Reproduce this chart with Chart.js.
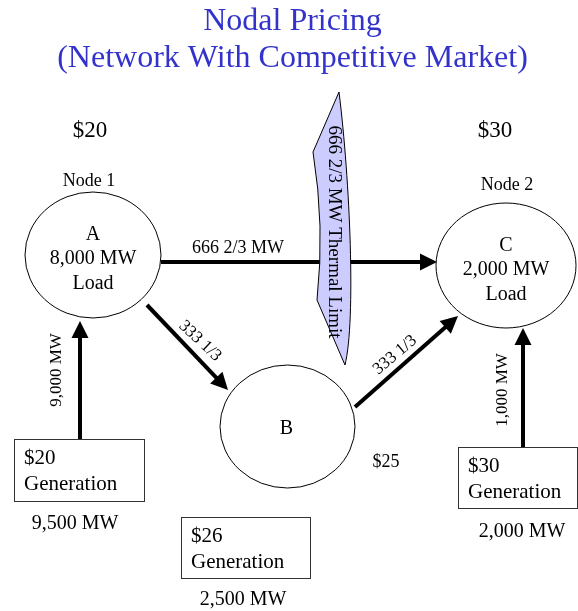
<!DOCTYPE html>
<html>
<head>
<meta charset="utf-8">
<script src="https://cdn.jsdelivr.net/npm/chart.js@4.4.1/dist/chart.umd.min.js"></script>
<style>
    html, body { margin: 0; padding: 0; background: #fff; }
    #wrap { position: relative; width: 578px; height: 611px; }
</style>
</head>
<body>
<div id="wrap"><canvas id="diagram"></canvas></div>
<script>
// Nodal pricing diagram - two priced nodes joined by a congested line

// --- values ---
const titleLines = ['Nodal Pricing', '(Network With Competitive Market)'];
const nodeNames = ['A', 'B', 'C'];
const nodeTags = ['Node 1', '', 'Node 2'];
const nodeLoads = ['8,000 MW', '', '2,000 MW'];
const nodePrices = ['$20', '$25', '$30'];
const genPrices = ['$20', '$26', '$30'];
const genOutputs = ['9,500 MW', '2,500 MW', '2,000 MW'];
const flowLabels = ['666 2/3 MW', '333 1/3', '333 1/3', '9,000 MW', '1,000 MW'];
const limitLabel = '666 2/3 MW Thermal Limit';

// --- layout, in the 578 x 611 frame units of the hidden axes ---
const W = 578, H = 611;
const SERIF = '"Liberation Serif", "Times New Roman", serif';

const nodeShapes = [
    { x: 93, y: 255, rx: 68, ry: 63 },
    { x: 287.5, y: 426.5, rx: 67.5, ry: 61.5 },
    { x: 506, y: 265.5, rx: 70, ry: 62.5 }
];
const tagPos = [[89, 181], null, [507, 185]];
const pricePos = [[90, 131], [386, 462], [495, 131]];

const genBoxes = [
    { x: 14, y: 439, w: 130, h: 62 },
    { x: 181, y: 517, w: 129, h: 61 },
    { x: 458, y: 447, w: 119, h: 61 }
];
const genOutPos = [[75, 524], [243, 600], [522, 532]];

// from -> tip, plus where the label sits and its angle
const flowArrows = [
    { from: [161, 262], to: [437, 262], lab: [238, 248], rot: 0 },
    { from: [147, 305], to: [228, 390], lab: [200, 341], rot: 43 },
    { from: [355, 407], to: [458, 316], lab: [395, 355], rot: -40 },
    { from: [80, 439], to: [80, 321], lab: [57, 370], rot: -90 },
    { from: [523, 447], to: [523, 328], lab: [503, 390], rot: -90 }
];
const HEAD_LEN = 17, HEAD_HALF = 8.5;

function shaftEnd(a) {
    const dx = a.to[0] - a.from[0], dy = a.to[1] - a.from[1];
    const len = Math.hypot(dx, dy);
    return { x: a.to[0] - dx / len * (HEAD_LEN - 2), y: a.to[1] - dy / len * (HEAD_LEN - 2) };
}

const datasets = flowArrows.map((a, i) => ({
    label: flowLabels[i],
    data: [{ x: a.from[0], y: a.from[1] }, shaftEnd(a)],
    showLine: true,
    borderColor: '#000',
    borderWidth: 4,
    pointRadius: 0,
    clip: false
}));

const diagramPlugin = {
    id: 'diagram',
    afterDatasetsDraw(chart) {
        const ctx = chart.ctx;
        const sx = chart.scales.x, sy = chart.scales.y;
        const px = v => sx.getPixelForValue(v);
        const py = v => sy.getPixelForValue(v);
        const ux = sx.getPixelForValue(1) - sx.getPixelForValue(0);
        const uy = sy.getPixelForValue(1) - sy.getPixelForValue(0);

        function text(str, x, y, size, opts) {
            opts = opts || {};
            ctx.save();
            ctx.translate(px(x), py(y));
            ctx.rotate((opts.rot || 0) * Math.PI / 180);
            ctx.font = size + 'px ' + SERIF;
            ctx.fillStyle = opts.color || '#000';
            ctx.textAlign = opts.align || 'center';
            ctx.textBaseline = 'middle';
            ctx.fillText(str, 0, 0);
            ctx.restore();
        }

        // arrow heads
        ctx.save();
        ctx.fillStyle = '#000';
        flowArrows.forEach(a => {
            const ang = Math.atan2(a.to[1] - a.from[1], a.to[0] - a.from[0]);
            const tx = px(a.to[0]), ty = py(a.to[1]);
            const bx = tx - Math.cos(ang) * HEAD_LEN, by = ty - Math.sin(ang) * HEAD_LEN;
            ctx.beginPath();
            ctx.moveTo(tx, ty);
            ctx.lineTo(bx + Math.sin(ang) * HEAD_HALF, by - Math.cos(ang) * HEAD_HALF);
            ctx.lineTo(bx - Math.sin(ang) * HEAD_HALF, by + Math.cos(ang) * HEAD_HALF);
            ctx.closePath();
            ctx.fill();
        });
        ctx.restore();

        // nodes
        ctx.save();
        ctx.strokeStyle = '#000';
        ctx.lineWidth = 1;
        nodeShapes.forEach(n => {
            ctx.beginPath();
            ctx.ellipse(px(n.x), py(n.y), n.rx * ux, Math.abs(n.ry * uy), 0, 0, Math.PI * 2);
            ctx.stroke();
        });
        ctx.restore();

        // thermal limit banner, drawn over the A-C line
        ctx.save();
        ctx.beginPath();
        ctx.moveTo(px(339), py(92));
        ctx.lineTo(px(313), py(152));
        ctx.quadraticCurveTo(px(325), py(226), px(317), py(300));
        ctx.lineTo(px(345), py(365));
        ctx.bezierCurveTo(px(356), py(320), px(350), py(180), px(339), py(92));
        ctx.closePath();
        ctx.fillStyle = '#ccccff';
        ctx.fill();
        ctx.strokeStyle = '#000';
        ctx.lineWidth = 1;
        ctx.stroke();
        ctx.restore();
        text(limitLabel, 334, 232, 19, { rot: 90 });

        // generator boxes
        ctx.save();
        ctx.strokeStyle = '#333';
        ctx.lineWidth = 1;
        genBoxes.forEach((b, i) => {
            ctx.strokeRect(Math.round(px(b.x)) + 0.5, Math.round(py(b.y)) + 0.5, b.w * ux, Math.abs(b.h * uy));
            text(genPrices[i], b.x + 10, b.y + 19, 21, { align: 'left' });
            text('Generation', b.x + 10, b.y + 45, 21, { align: 'left' });
            text(genOutputs[i], genOutPos[i][0], genOutPos[i][1], 20);
        });
        ctx.restore();

        // titles
        text(titleLines[0], 292.5, 22, 32, { color: '#3333cc' });
        text(titleLines[1], 292.5, 59, 32, { color: '#3333cc' });

        // node texts
        nodeNames.forEach((name, i) => {
            const n = nodeShapes[i];
            if (nodeLoads[i]) {
                text(name, n.x, n.y - 20, 20);
                text(nodeLoads[i], n.x, n.y + 4, 20);
                text('Load', n.x, n.y + 29, 20);
            } else {
                text(name, n.x - 1, n.y + 2, 20);
            }
            if (tagPos[i]) text(nodeTags[i], tagPos[i][0], tagPos[i][1], 18);
            text(nodePrices[i], pricePos[i][0], pricePos[i][1], i === 1 ? 18 : 23);
        });

        // flow labels
        flowArrows.forEach((a, i) => {
            text(flowLabels[i], a.lab[0], a.lab[1], i === 0 ? 18 : 17, { rot: a.rot });
        });
    }
};

new Chart(document.getElementById('diagram'), {
    type: 'scatter',
    data: { datasets: datasets },
    options: {
        responsive: true,
        maintainAspectRatio: false,
        animation: false,
        events: [],
        layout: { padding: 0, autoPadding: false },
        plugins: { legend: { display: false }, tooltip: { enabled: false }, title: { display: false } },
        scales: {
            x: { type: 'linear', min: 0, max: W, display: false },
            y: { type: 'linear', min: 0, max: H, reverse: true, display: false }
        }
    },
    plugins: [diagramPlugin]
});
</script>
</body>
</html>
